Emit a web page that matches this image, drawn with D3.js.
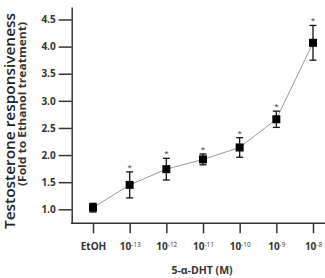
<!DOCTYPE html>
<html><head><meta charset="utf-8">
<script src="https://cdn.jsdelivr.net/npm/d3@7"></script>
<style>
body{margin:0;background:#fff}
svg{display:block}
text{font-family:"Open Sans","DejaVu Sans",sans-serif}
</style></head>
<body><svg id="c" width="325" height="278"></svg>
<script>
const categories = ["EtOH","-13","-12","-11","-10","-9","-8"];
const means = [1.03, 1.45, 1.74, 1.92, 2.14, 2.66, 4.07];
const errors = [0.08, 0.24, 0.2, 0.1, 0.18, 0.15, 0.32];
const significant = [false, true, true, true, true, true, true];
const yTicks = [1.0, 1.5, 2.0, 2.5, 3.0, 3.5, 4.0, 4.5];

const points = categories.map((c,i)=>({c, m: means[i], e: errors[i], s: significant[i]}));

const svg = d3.select("#c");
const axisX = 71.7, axisBottomY = 223.3;
const y = d3.scaleLinear().domain([0.742, 4.73]).range([axisBottomY, 7]);
const x = d3.scalePoint().domain(categories).range([93, 313]);
const axisColor = "#333";

// Y axis
const gy = svg.append("g").attr("transform", `translate(${axisX},0)`)
  .call(d3.axisLeft(y).tickValues(yTicks).tickFormat(d3.format(".1f")).tickSize(13).tickSizeOuter(0).tickPadding(3));
gy.select(".domain").attr("stroke", axisColor).attr("stroke-width", 1.5);
gy.selectAll(".tick line").attr("stroke", axisColor).attr("stroke-width", 1.5);
gy.selectAll(".tick text").attr("font-size", 10).attr("font-weight", 700).attr("fill", "#333")
  .attr("font-family", '"Open Sans", sans-serif');

// X axis
svg.append("line").attr("x1", axisX - 0.75).attr("x2", 325).attr("y1", axisBottomY).attr("y2", axisBottomY)
  .attr("stroke", axisColor).attr("stroke-width", 1.5);
const gx = svg.append("g").attr("transform", `translate(0,${axisBottomY})`)
  .call(d3.axisBottom(x).tickSize(10).tickSizeOuter(0).tickPadding(10));
gx.select(".domain").remove();
gx.selectAll(".tick line").attr("stroke", axisColor).attr("stroke-width", 1.5);
gx.selectAll(".tick text").each(function(d){
  const t = d3.select(this).text("").attr("font-weight", 700).attr("fill", "#333")
    .attr("font-family", '"Open Sans", sans-serif').attr("font-size", 10).attr("dy", "0.71em");
  if (d === "EtOH") { t.text("EtOH"); }
  else {
    t.append("tspan").text("10");
    t.append("tspan").attr("font-size", 6.5).attr("dy", "-0.5em").attr("font-weight", 400).text(d);
  }
});

// connecting line
const line = d3.line().x(d=>x(d.c)).y(d=>y(d.m));
svg.append("path").datum(points).attr("d", line).attr("fill","none").attr("stroke","#9a9a9a").attr("stroke-width",1);

// error bars
const eb = svg.append("g").attr("stroke","#111").attr("stroke-width",1.3)
  .selectAll("g").data(points).join("g");
eb.append("line").attr("x1",d=>x(d.c)).attr("x2",d=>x(d.c)).attr("y1",d=>y(d.m+d.e)).attr("y2",d=>y(d.m-d.e));
eb.append("line").attr("x1",d=>x(d.c)-3.5).attr("x2",d=>x(d.c)+3.5).attr("y1",d=>y(d.m+d.e)).attr("y2",d=>y(d.m+d.e));
eb.append("line").attr("x1",d=>x(d.c)-3.5).attr("x2",d=>x(d.c)+3.5).attr("y1",d=>y(d.m-d.e)).attr("y2",d=>y(d.m-d.e));
// markers
svg.append("g").selectAll("rect").data(points).join("rect")
  .attr("x",d=>x(d.c)-4).attr("y",d=>y(d.m)-4).attr("width",8).attr("height",8).attr("fill","#000");
// asterisks
svg.append("g").selectAll("text").data(points.filter(d=>d.s)).join("text")
  .attr("x",d=>x(d.c)).attr("y",d=>y(d.m+d.e)-2)
  .attr("text-anchor","middle").attr("font-size",8).attr("fill","#333").text("*");

// titles
svg.append("text").attr("transform","translate(14.5,121) rotate(-90)").attr("text-anchor","middle")
  .attr("font-size",13.5).attr("font-weight",600).attr("fill","#222")
  .attr("textLength",216).attr("lengthAdjust","spacingAndGlyphs").text("Testosterone responsiveness");
svg.append("text").attr("transform","translate(25.5,104) rotate(-90)").attr("text-anchor","middle")
  .attr("font-size",10).attr("font-weight",700).attr("fill","#333")
  .attr("textLength",164).attr("lengthAdjust","spacingAndGlyphs").text("(Fold to Ethanol treatment)");
svg.append("text").attr("x",202).attr("y",274).attr("text-anchor","middle")
  .attr("font-size",10.5).attr("font-weight",700).attr("fill","#333").text("5-α-DHT (M)");
</script></body></html>
